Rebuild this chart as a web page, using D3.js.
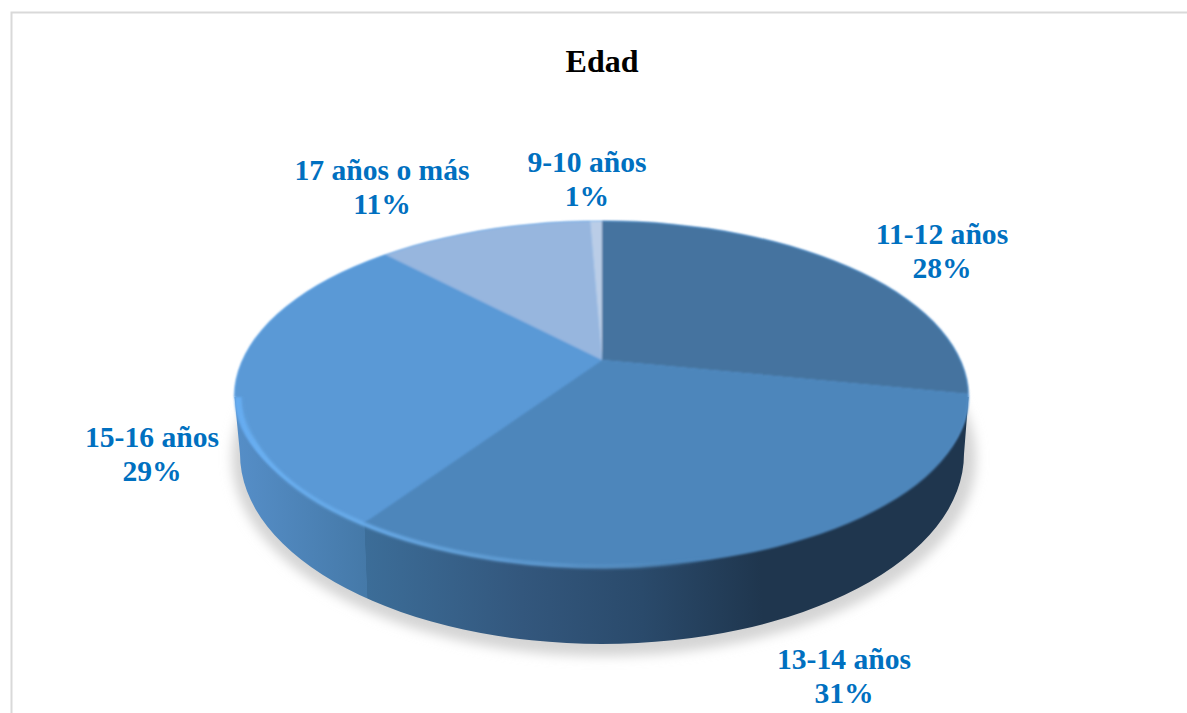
<!DOCTYPE html>
<html>
<head>
<meta charset="utf-8">
<script src="https://cdn.jsdelivr.net/npm/d3@7"></script>
<style>
  html, body { margin: 0; padding: 0; background: #fff; overflow: hidden; }
  text { font-family: "Liberation Serif", serif; font-weight: bold; }
  .title { font-size: 32px; fill: #000; }
  .label { font-size: 29.6px; fill: #0070c0; text-anchor: middle; }
</style>
</head>
<body>
<div id="chart"></div>
<script>
const chartTitle = "Edad";
const categories = ["11-12 años", "13-14 años", "15-16 años", "17 años o más", "9-10 años"];
const shares = [28.3, 30.8, 29.2, 11.1, 0.6];
const sliceColors = ["#44739f", "#4e86bb", "#5a99d6", "#97b6de", "#bacde7"];

// label anchor per category, separate from the data
const labelAnchors = [[942, 244], [844, 669], [152, 447], [382, 180], [587, 172]];

const width = 1187, height = 713;
const apex = { x: 602, y: 360 };
const squash = 0.44;   // foreshortening of the disc

// the outline is not one ellipse: back half, then bevel and flat front half
const topEllipse = { cx: 601.5, cy: 397, rx: 367, ry: 176 };
const faceFront = { cx: 605, cy: 397, rx: 363.5, ry: 170 };
const shoulderFront = { cx: 601.5, cy: 397, rx: 367, ry: 160 };
const baseEllipse = { cx: 602, cy: 454, rx: 362, ry: 190 };

const svg = d3.select("#chart").append("svg")
    .attr("width", width)
    .attr("height", height);

const defs = svg.append("defs");

function frontArc(front) {
    return `M${front.cx + front.rx},${front.cy} A${front.rx},${front.ry} 0 0 1 ${front.cx - front.rx},${front.cy}`;
}

// back half of topEllipse joined to a front half
function discPath(front) {
    const t = topEllipse;
    return `M${t.cx - t.rx},${t.cy} A${t.rx},${t.ry} 0 0 1 ${t.cx + t.rx},${t.cy}`
        + ` L${front.cx + front.rx},${front.cy} A${front.rx},${front.ry} 0 0 1 ${front.cx - front.rx},${front.cy} Z`;
}

defs.append("filter").attr("id", "shadowBlur")
    .attr("x", "-10%").attr("y", "-10%").attr("width", "120%").attr("height", "120%")
    .append("feGaussianBlur").attr("stdDeviation", 6);
defs.append("filter").attr("id", "softEdge")
    .attr("x", "-5%").attr("y", "-5%").attr("width", "110%").attr("height", "110%")
    .append("feGaussianBlur").attr("stdDeviation", 1.3);
defs.append("filter").attr("id", "ridgeBlur")
    .attr("x", "-5%").attr("y", "-5%").attr("width", "110%").attr("height", "110%")
    .append("feGaussianBlur").attr("stdDeviation", 1.8);

defs.append("clipPath").attr("id", "clipFace")
    .append("path").attr("d", discPath(faceFront));

// angles come from d3.pie, clockwise from 12 o'clock
const pie = d3.pie().sort(null).value(d => d);
const arcs = pie(shares);

// screen direction of a pie angle, with the vertical squashed
function rayPoint(angle, len) {
    const u = Math.sin(angle), v = -Math.cos(angle);
    const d = Math.hypot(u, v * squash);
    return [apex.x + len * u / d, apex.y + len * v * squash / d];
}

function wedgePath(a) {
    const steps = d3.range(0, 1.0001, 0.05)
        .map(t => rayPoint(a.startAngle + t * (a.endAngle - a.startAngle), 520));
    return d3.line()([[apex.x, apex.y], ...steps]) + "Z";
}

// where the 13-14 / 15-16 boundary meets the side wall
const seamAngle = arcs[2].startAngle;
const seamLen = d3.range(100, 400).find(len => {
    const p = rayPoint(seamAngle, len);
    const dx = (p[0] - faceFront.cx) / faceFront.rx, dy = (p[1] - faceFront.cy) / faceFront.ry;
    return dx * dx + dy * dy >= 1;
});
const seamX = rayPoint(seamAngle, seamLen)[0] + 3;
const sideX = d3.scaleLinear().domain([235, 968]).range([0, 1]);

// wall gradient, tilted a little so the seam leans like the reference
const sideStops = [
    [235, "#568fc9"], [seamX, "#4579a8"], [seamX + 0.5, "#3c6d98"],
    [520, "#33577d"], [640, "#2a4a6b"], [760, "#1f364e"], [968, "#1f364e"]
];
defs.append("linearGradient").attr("id", "sideGrad")
    .attr("gradientUnits", "userSpaceOnUse")
    .attr("x1", 235).attr("y1", 565).attr("x2", 968).attr("y2", 535)
    .selectAll("stop").data(sideStops).join("stop")
    .attr("offset", d => sideX(d[0]))
    .attr("stop-color", d => d[1]);

// highlight along the front edge, gone before the dark part of the wall
const ridgeStops = [
    [241, "#6ab0f2", 0], [256, "#6ab0f2", 1], [seamX, "#6cb0f0", 1], [450, "#68a8e2", 1],
    [530, "#619fd8", 1], [630, "#5a94c8", 0.8], [710, "#4e86bb", 0], [968, "#4e86bb", 0]
];
defs.append("linearGradient").attr("id", "ridgeGrad")
    .attr("gradientUnits", "userSpaceOnUse")
    .attr("x1", 235).attr("y1", 0).attr("x2", 968).attr("y2", 0)
    .selectAll("stop").data(ridgeStops).join("stop")
    .attr("offset", d => sideX(d[0]))
    .attr("stop-color", d => d[1])
    .attr("stop-opacity", d => d[2]);

// frame
svg.append("path")
    .attr("d", d3.line()([[11.5, height], [11.5, 12.5], [width, 12.5]]))
    .attr("fill", "none")
    .attr("stroke", "#d9d9d9")
    .attr("stroke-width", 2);

// drop shadow under the disc
svg.append("ellipse")
    .attr("cx", baseEllipse.cx + 2)
    .attr("cy", baseEllipse.cy + 4)
    .attr("rx", baseEllipse.rx + 10)
    .attr("ry", baseEllipse.ry + 8)
    .attr("fill", "#d4d4d4")
    .attr("filter", "url(#shadowBlur)");

// side wall
const b = baseEllipse, t = topEllipse;
svg.append("path")
    .attr("d", `M${t.cx - t.rx},${t.cy} L${b.cx - b.rx},${b.cy} A${b.rx},${b.ry} 0 0 0 ${b.cx + b.rx},${b.cy} L${t.cx + t.rx},${t.cy} Z`)
    .attr("fill", "url(#sideGrad)");

// light shoulder on the left where the bevel turns into the wall
svg.append("path")
    .attr("d", discPath(shoulderFront))
    .attr("fill", "#66acf0")
    .attr("filter", "url(#softEdge)");

// flat top of the pie
const face = svg.append("g").attr("filter", "url(#softEdge)");
const faceClip = face.append("g").attr("clip-path", "url(#clipFace)");
faceClip.selectAll("path.slice")
    .data(arcs)
    .join("path")
    .attr("class", "slice")
    .attr("d", wedgePath)
    .attr("fill", (d, i) => sliceColors[i]);

// thin highlight on the front edge
svg.append("path")
    .attr("d", frontArc(faceFront))
    .attr("fill", "none")
    .attr("stroke", "url(#ridgeGrad)")
    .attr("stroke-width", 3.5)
    .attr("filter", "url(#ridgeBlur)");

// title and labels
svg.append("text")
    .attr("class", "title")
    .attr("x", 602).attr("y", 72)
    .attr("text-anchor", "middle")
    .text(chartTitle);

const labels = svg.selectAll("text.label")
    .data(arcs)
    .join("text")
    .attr("class", "label")
    .attr("x", (d, i) => labelAnchors[i][0])
    .attr("y", (d, i) => labelAnchors[i][1]);
labels.append("tspan").text((d, i) => categories[i]);
labels.append("tspan")
    .attr("x", (d, i) => labelAnchors[i][0])
    .attr("dy", 34)
    .text(d => Math.round(d.data) + "%");
</script>
</body>
</html>
